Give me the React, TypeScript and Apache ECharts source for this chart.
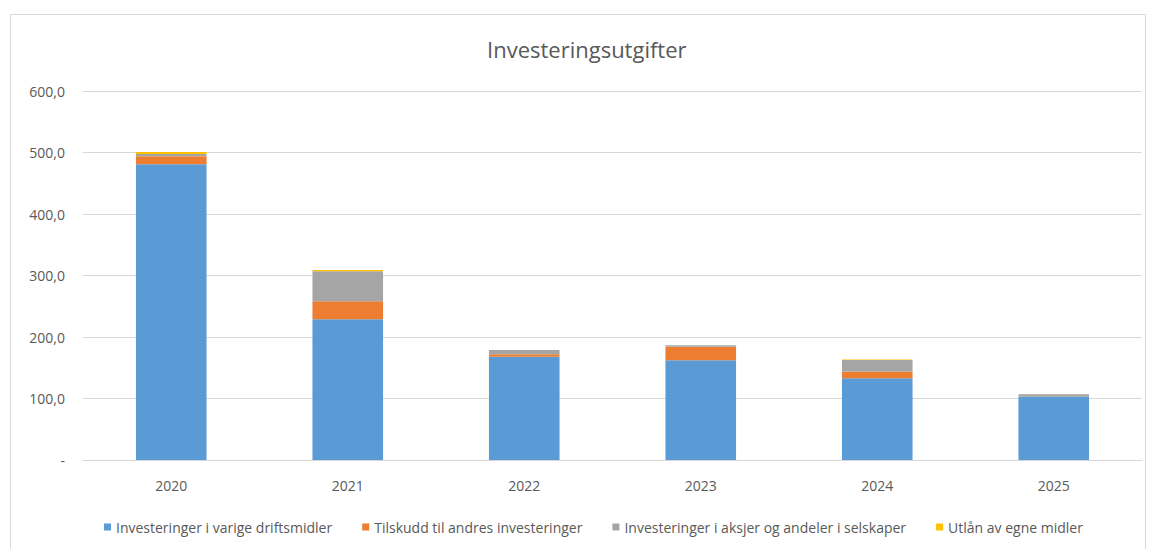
import React, { useEffect, useRef } from "react";
import * as echarts from "echarts";

const categories = ["2020", "2021", "2022", "2023", "2024", "2025"];
const varigeDriftsmidler = [481, 229, 168, 162, 133, 103];
const tilskudd = [13, 29, 4, 22, 11, 0];
const aksjer = [3.5, 49, 7, 2.5, 18.5, 4];
const utlan = [3.5, 2, 0, 0, 1, 0];
const seriesNames = [
  "Investeringer i varige driftsmidler",
  "Tilskudd til andres investeringer",
  "Investeringer i aksjer og andeler i selskaper",
  "Utlån av egne midler",
];
const colors = ["#5B9BD5", "#ED7D31", "#A5A5A5", "#FFC000"];

const FONT = "Open Sans";

export default function App() {
  const ref = useRef<HTMLDivElement>(null);
  useEffect(() => {
    document.body.style.margin = "0";
    const chart = echarts.init(ref.current!, null, { renderer: "svg" });
    const data = [varigeDriftsmidler, tilskudd, aksjer, utlan];
    chart.setOption({
      animation: false,
      color: colors,
      title: {
        text: "Investeringsutgifter",
        left: 482,
        top: 33,
        textStyle: { fontFamily: FONT, fontSize: 22, fontWeight: "normal", color: "#595959" },
      },
      legend: {
        bottom: 10,
        left: 99,
        itemWidth: 7,
        itemHeight: 7,
        itemGap: 30,
        icon: "rect",
        textStyle: { fontFamily: FONT, fontSize: 14, color: "#595959" },
        data: seriesNames,
      },
      grid: { left: 83, right: 7, top: 91, bottom: 89, containLabel: false },
      xAxis: {
        type: "category",
        data: categories,
        axisLine: { lineStyle: { color: "#D9D9D9" } },
        axisTick: { show: false },
        axisLabel: { fontFamily: FONT, fontSize: 14, color: "#595959", margin: 18 },
      },
      yAxis: {
        type: "value",
        min: 0,
        max: 600,
        interval: 100,
        axisLine: { show: false },
        axisTick: { show: false },
        splitLine: { lineStyle: { color: "#D9D9D9" } },
        axisLabel: {
          fontFamily: FONT,
          fontSize: 14,
          color: "#595959",
          margin: 18,
          formatter: (v: number) => (v === 0 ? "-" : v.toFixed(1).replace(".", ",")),
        },
      },
      series: seriesNames.map((name, i) => ({
        name,
        type: "bar",
        stack: "total",
        barWidth: "40%",
        data: data[i],
      })),
    });
    return () => chart.dispose();
  }, []);
  return (
    <div style={{ position: "relative", width: 1149, height: 549, background: "#fff" }}>
      <div
        style={{
          position: "absolute",
          left: 10,
          top: 14,
          width: 1136,
          height: 545,
          border: "1px solid #D9D9D9",
          boxSizing: "border-box",
        }}
      />
      <div ref={ref} style={{ position: "absolute", left: 0, top: 0, width: 1149, height: 549 }} />
    </div>
  );
}
